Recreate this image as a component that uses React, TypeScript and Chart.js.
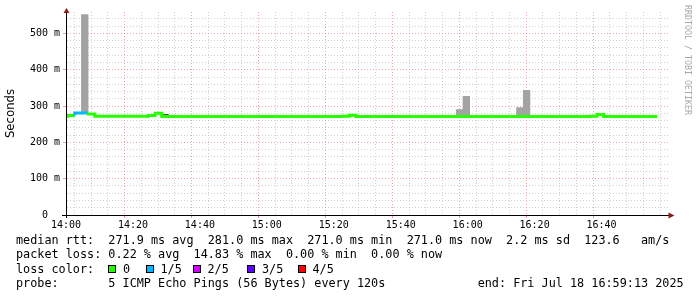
import React, { useEffect, useRef } from 'react';
import { Chart, registerables } from 'chart.js';

Chart.register(...registerables);

// ---------------- data ----------------
const firstStepStart = '13:58:36';
const stepSeconds = 120;

// median round-trip time per 120 s step (ms)
const medianMs = [
  272, 272, 274, 281, 281, 278, 272, 272, 272, 272,
  272, 272, 272, 272, 274, 280, 271, 271, 271, 271,
  271, 271, 271, 271, 271, 271, 271, 271, 271, 271,
  271, 271, 271, 271, 271, 271, 271, 271, 271, 271,
  271, 271, 271, 272, 275, 271, 271, 271, 271, 271,
  271, 271, 271, 271, 271, 271, 271, 271, 271, 271,
  271, 271, 271, 271, 271, 271, 271, 271, 271, 271,
  271, 271, 271, 271, 271, 271, 271, 271, 271, 271,
  272, 277, 271, 271, 271, 271, 271, 271, 271,
];

// lost pings (out of 5) per step
const lossFifths = [
  0, 0, 1, 1, 0, 0, 0, 0, 0, 0,
  0, 0, 0, 0, 0, 0, 0, 0, 0, 0,
  0, 0, 0, 0, 0, 0, 0, 0, 0, 0,
  0, 0, 0, 0, 0, 0, 0, 0, 0, 0,
  0, 0, 0, 0, 0, 0, 0, 0, 0, 0,
  0, 0, 0, 0, 0, 0, 0, 0, 0, 0,
  0, 0, 0, 0, 0, 0, 0, 0, 0, 0,
  0, 0, 0, 0, 0, 0, 0, 0, 0, 0,
  0, 0, 0, 0, 0, 0, 0, 0, 0,
];

// sparse smoke (ping spread) – outlier spikes
const spikeStart = ['14:04:36', '15:56:36', '15:58:36', '16:14:36', '16:16:36'];
const spikeLowMs = [281, 271, 271, 271, 271];
const spikeHighMs = [552, 290, 327, 296, 343];

// dense smoke just below the median line
const denseStart = ['14:28:36', '15:26:36'];
const denseLowMs = [271, 271];
const denseHighMs = [277, 273];

const xTickLabels = ['14:00', '14:20', '14:40', '15:00', '15:20', '15:40', '16:00', '16:20', '16:40'];
const yTickLabels = ['0  ', '100 m', '200 m', '300 m', '400 m', '500 m'];

const lossLabels = ['0', '1/5', '2/5', '3/5', '4/5'];
const lossColors = ['#26ff00', '#00b8ff', '#d200ff', '#5e00ff', '#ff0000'];

const statsMedian = 'median rtt:  271.9 ms avg  281.0 ms max  271.0 ms min  271.0 ms now  2.2 ms sd  123.6   am/s';
const statsLoss = 'packet loss: 0.22 % avg  14.83 % max  0.00 % min  0.00 % now';
const lossTitle = 'loss color:';
const probeLine = 'probe:       5 ICMP Echo Pings (56 Bytes) every 120s             end: Fri Jul 18 16:59:13 2025';
const watermark = 'RRDTOOL / TOBI OETIKER';

// ---------------- helpers ----------------
const toMin = (hms: string) => {
  const [h, m, s] = hms.split(':').map(Number);
  return h * 60 + m + (s || 0) / 60 - 14 * 60;
};

const MONO = "'DejaVu Sans Mono', monospace";
const MINOR = 'rgba(150,150,150,0.45)';
const MAJOR = 'rgba(222,79,79,0.5)';
const MAJOR_TICK = 'rgba(222,79,79,0.6)';
const ARROW = '#8b1a1a';

const axisArrows = {
  id: 'axisArrows',
  afterDraw(chart: any) {
    const { ctx, chartArea } = chart;
    const { left, right, top, bottom } = chartArea;
    const xl = Math.round(left) + 0.5;
    const yb = Math.round(bottom) + 0.5;
    ctx.save();
    ctx.strokeStyle = '#000';
    ctx.lineWidth = 1;
    ctx.beginPath();
    ctx.moveTo(left - 4, yb);
    ctx.lineTo(right + 1, yb);
    ctx.stroke();
    ctx.beginPath();
    ctx.moveTo(xl, bottom + 3);
    ctx.lineTo(xl, top - 1);
    ctx.stroke();
    ctx.fillStyle = ARROW;
    ctx.beginPath();
    ctx.moveTo(xl, top - 4);
    ctx.lineTo(xl - 3, top + 1);
    ctx.lineTo(xl + 3, top + 1);
    ctx.closePath();
    ctx.fill();
    ctx.beginPath();
    ctx.moveTo(right + 6, yb);
    ctx.lineTo(right, yb - 3);
    ctx.lineTo(right, yb + 3);
    ctx.closePath();
    ctx.fill();
    ctx.restore();
  },
};

export default function App() {
  const ref = useRef<HTMLCanvasElement>(null);

  useEffect(() => {
    const canvas = ref.current;
    if (!canvas) return;
    const t0 = toMin(firstStepStart);
    const stepMin = stepSeconds / 60;

    const medianPoints = medianMs.map((v, i) => ({ x: t0 + i * stepMin, y: v }));
    medianPoints.push({ x: t0 + medianMs.length * stepMin, y: medianMs[medianMs.length - 1] });

    const smokePoints: any[] = [];
    const smokeColors: string[] = [];
    spikeStart.forEach((s, i) => {
      smokePoints.push({ x: toMin(s) + stepMin / 2, y: [spikeLowMs[i], spikeHighMs[i]] });
      smokeColors.push('#a3a3a3');
    });
    denseStart.forEach((s, i) => {
      smokePoints.push({ x: toMin(s) + stepMin / 2, y: [denseLowMs[i], denseHighMs[i]] });
      smokeColors.push('#555555');
    });

    const chart = new Chart(canvas, {
      type: 'line',
      data: {
        datasets: [
          {
            type: 'line',
            data: medianPoints,
            stepped: 'after',
            borderWidth: 3,
            borderColor: lossColors[0],
            borderCapStyle: 'butt',
            pointRadius: 0,
            fill: false,
            order: 0,
            segment: {
              borderColor: (ctx: any) => lossColors[lossFifths[ctx.p0DataIndex] || 0],
            },
          } as any,
          {
            type: 'bar',
            data: smokePoints,
            backgroundColor: smokeColors,
            borderWidth: 0,
            barPercentage: 1,
            categoryPercentage: 1,
            order: 1,
          } as any,
        ],
      },
      options: {
        responsive: false,
        animation: false,
        events: [],
        layout: { padding: { left: 0, top: 12, right: 28.5, bottom: 62 } },
        plugins: { legend: { display: false }, tooltip: { enabled: false } },
        scales: {
          x: {
            type: 'linear',
            min: 0,
            max: 180,
            offset: false,
            afterFit: (s: any) => { s.height = 20; },
            ticks: {
              stepSize: 5,
              autoSkip: false,
              maxRotation: 0,
              padding: 1,
              color: '#000',
              font: { family: MONO, size: 10 },
              callback: (v: any) => {
                const n = Number(v);
                if (n % 20 !== 0) return '';
                return xTickLabels[n / 20] ?? '';
              },
            },
            grid: {
              color: (c: any) => (c.tick && c.tick.value % 20 === 0 && c.tick.value !== 180 ? MAJOR : MINOR),
              tickColor: (c: any) => (c.tick && c.tick.value % 20 === 0 && c.tick.value !== 180 ? MAJOR_TICK : 'rgba(0,0,0,0)'),
              tickLength: 3,
              lineWidth: 1,
            },
            border: { display: true, color: '#000', width: 1, dash: [1, 2] },
          },
          y: {
            type: 'linear',
            min: 0,
            max: 559,
            afterFit: (s: any) => { s.width = 66; },
            afterBuildTicks: (s: any) => { s.ticks = s.ticks.filter((t: any) => t.value % 20 === 0); },
            ticks: {
              stepSize: 20,
              includeBounds: false,
              autoSkip: false,
              padding: 3,
              color: '#000',
              font: { family: MONO, size: 10 },
              callback: (v: any) => {
                const n = Number(v);
                if (n % 100 !== 0) return '';
                return yTickLabels[n / 100] ?? '';
              },
            },
            grid: {
              color: (c: any) => (c.tick && c.tick.value % 100 === 0 ? MAJOR : MINOR),
              tickColor: (c: any) => (c.tick && c.tick.value % 100 === 0 ? MAJOR_TICK : 'rgba(0,0,0,0)'),
              tickLength: 3,
              lineWidth: 1,
            },
            border: { display: true, color: '#000', width: 1, dash: [1, 2] },
            title: {
              display: true,
              text: 'Seconds',
              color: '#000',
              font: { family: "'DejaVu Sans', sans-serif", size: 11.7 },
              padding: { top: 4, bottom: 0 },
            },
          },
        },
      } as any,
      plugins: [axisArrows],
    });
    return () => chart.destroy();
  }, []);

  const lineStyle = (top: number): React.CSSProperties => ({
    position: 'absolute',
    left: 16,
    top,
    font: `11.8px ${MONO}`,
    lineHeight: '14px',
    whiteSpace: 'pre',
    color: '#000',
  });
  const boxLefts = [108, 145.5, 192.5, 247, 297.5];

  return (
    <div style={{ position: 'fixed', left: 0, top: 0, width: 697, height: 297, background: '#fff', overflow: 'hidden' }}>
      <canvas ref={ref} width={697} height={297} style={{ position: 'absolute', left: 0, top: 0, width: 697, height: 297 }} />
      <div
        style={{
          position: 'absolute',
          left: 682.5,
          top: 5,
          width: 10,
          writingMode: 'vertical-rl',
          font: `8.3px ${MONO}`,
          lineHeight: '10px',
          color: '#a8a8a8',
          whiteSpace: 'pre',
        }}
      >
        {watermark}
      </div>
      <div style={lineStyle(233.2)}>{statsMedian}</div>
      <div style={lineStyle(247.4)}>{statsLoss}</div>
      <div style={lineStyle(261.7)}>{lossTitle}</div>
      {lossLabels.map((lab, i) => (
        <React.Fragment key={lab}>
          <div
            style={{
              position: 'absolute',
              left: boxLefts[i],
              top: 265,
              width: 8,
              height: 8,
              boxSizing: 'border-box',
              border: '1px solid #000',
              background: lossColors[i],
            }}
          />
          <div style={{ ...lineStyle(261.7), left: boxLefts[i] + 15 }}>{lab}</div>
        </React.Fragment>
      ))}
      <div style={lineStyle(275.9)}>{probeLine}</div>
    </div>
  );
}
